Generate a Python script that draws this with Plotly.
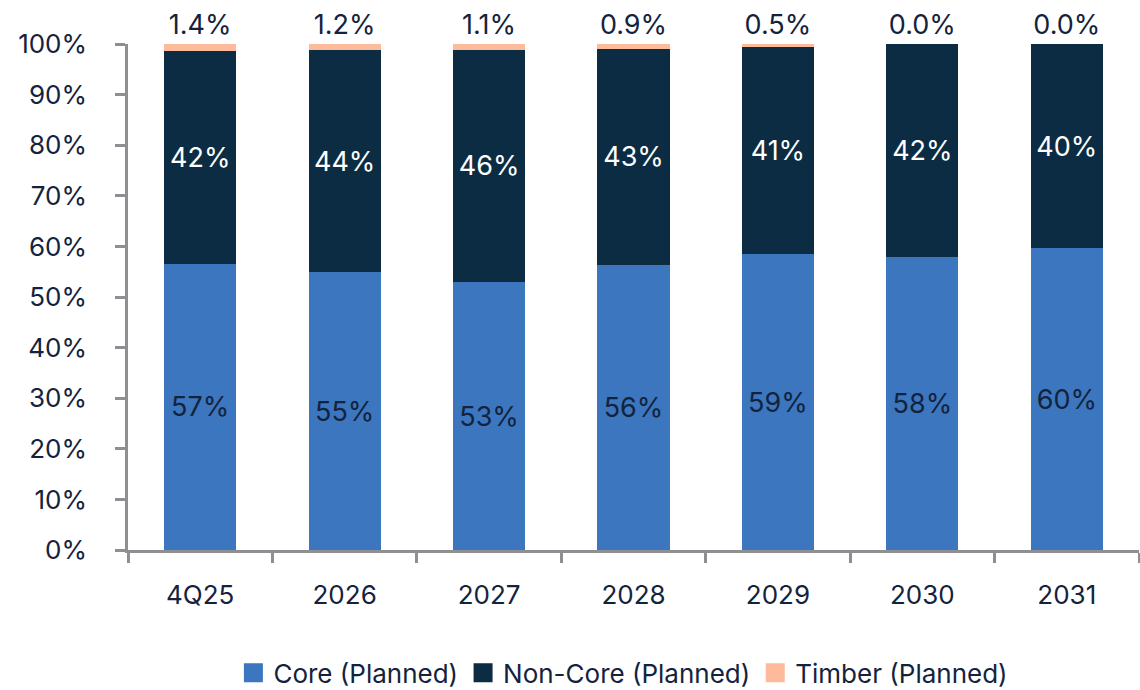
import plotly.graph_objects as go

categories = ["4Q25", "2026", "2027", "2028", "2029", "2030", "2031"]
core = [56.6, 54.9, 53.0, 56.3, 58.5, 57.9, 59.6]
non_core = [42.0, 43.9, 45.9, 42.8, 41.0, 42.1, 40.4]
timber = [1.4, 1.2, 1.1, 0.9, 0.5, 0.0, 0.0]

y_ticks = list(range(0, 101, 10))
y_tick_labels = [f"{v}%" for v in y_ticks]

series_names = ["Core (Planned)", "Non-Core (Planned)", "Timber (Planned)"]
series_colors = ["#3b76bf", "#0b2c42", "#fdbb9c"]

TEXT = "#14233d"
AXIS = "#8e8e93"
FONT = "Inter, Arial, sans-serif"

fig = go.Figure()
fig.add_bar(
    x=categories, y=core, name=series_names[0], showlegend=False,
    marker=dict(color=series_colors[0], line=dict(width=0)),
    texttemplate="%{y:.0f}%", textposition="inside", insidetextanchor="middle",
    textfont=dict(color=TEXT, size=28, family=FONT), textangle=0,
)
fig.add_bar(
    x=categories, y=non_core, name=series_names[1], showlegend=False,
    marker=dict(color=series_colors[1], line=dict(width=0)),
    texttemplate="%{y:.0f}%", textposition="inside", insidetextanchor="middle",
    textfont=dict(color="white", size=28, family=FONT), textangle=0,
)
# Timber share sits on top of each column, labelled above it
fig.add_bar(
    x=categories, y=timber, name=series_names[2], showlegend=False,
    marker=dict(color=series_colors[2], line=dict(width=0)),
    texttemplate="%{y:.1f}%", textposition="outside", cliponaxis=False,
    textfont=dict(color=TEXT, size=27, family=FONT), textangle=0,
)

# Legend-only entries so the swatches can be larger squares
for name, color in zip(series_names, series_colors):
    fig.add_scatter(
        x=[None], y=[None], mode="markers", name=name,
        marker=dict(symbol="square", size=16, color=color,
                    line=dict(color=color, width=3)),
    )

fig.update_layout(
    barmode="stack",
    bargap=0.5,
    width=1140, height=690,
    margin=dict(l=128, r=1, t=44, b=140, autoexpand=False),
    paper_bgcolor="white", plot_bgcolor="white",
    font=dict(family=FONT, color=TEXT, size=26),
    uniformtext=dict(minsize=20, mode="show"),
    legend=dict(
        orientation="h", x=0.49, xanchor="center", y=-0.243, yanchor="middle",
        font=dict(size=26, color=TEXT, family=FONT), traceorder="normal",
        itemwidth=30, itemsizing="trace",
    ),
    showlegend=True,
)
fig.update_xaxes(
    type="category",
    showline=True, linecolor=AXIS, linewidth=2.5,
    ticks="outside", tickson="boundaries", ticklen=10, tickwidth=2.5, tickcolor=AXIS,
    ticklabelstandoff=20,
    tickfont=dict(size=26, color=TEXT, family=FONT),
    showgrid=False,
)
fig.update_yaxes(
    range=[0, 100], tickmode="array", tickvals=y_ticks, ticktext=y_tick_labels,
    showline=True, linecolor=AXIS, linewidth=2.5,
    ticks="outside", ticklen=10, tickwidth=2.5, tickcolor=AXIS,
    ticklabelstandoff=23,
    tickfont=dict(size=26, color=TEXT, family=FONT),
    showgrid=False, zeroline=False,
)

fig.write_html("out.html")
